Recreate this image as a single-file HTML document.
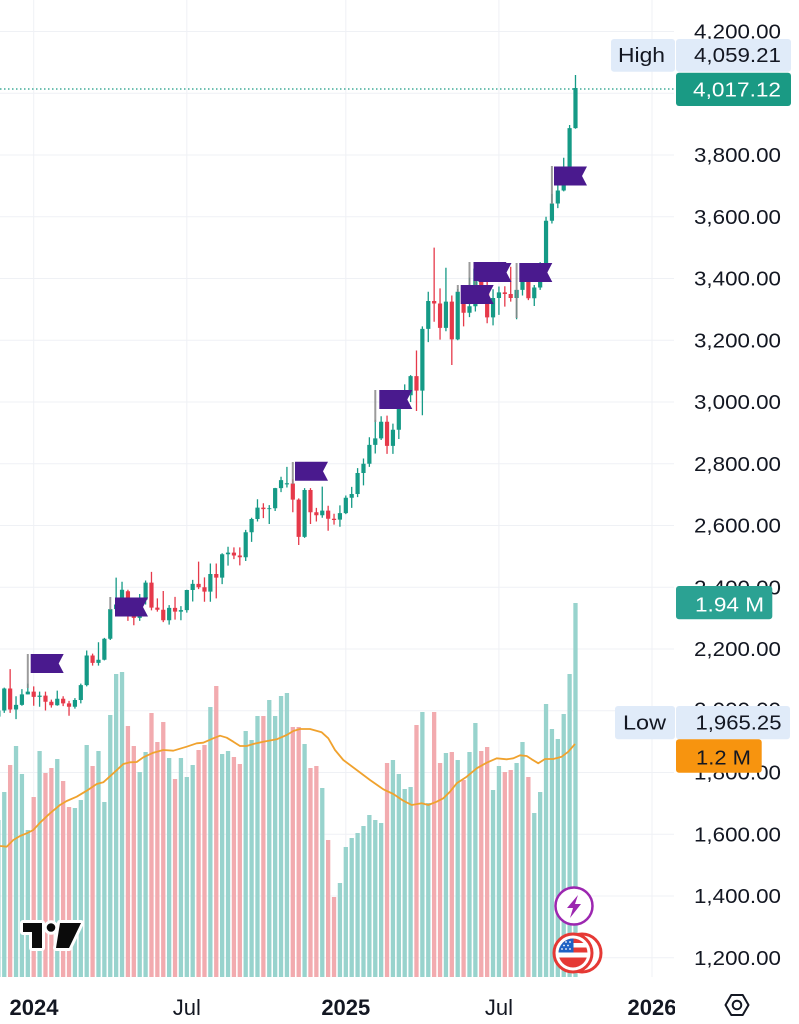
<!DOCTYPE html>
<html>
<head>
<meta charset="utf-8">
<style>
html,body{margin:0;padding:0;background:#fff;}
body{width:799px;height:1024px;overflow:hidden;}
svg{display:block;font-family:"Liberation Sans",sans-serif;}
</style>
</head>
<body>
<svg width="799" height="1024" viewBox="0 0 799 1024" xmlns="http://www.w3.org/2000/svg">
<defs>
  <clipPath id="pane"><rect x="0" y="0" width="675" height="977"/></clipPath>
  <clipPath id="taxis"><rect x="0" y="980" width="675" height="44"/></clipPath>
  <clipPath id="flagc"><circle cx="573" cy="953" r="14.5"/></clipPath>
</defs>
<rect width="799" height="1024" fill="#fff"/>

<!-- grid -->
<g stroke="#eff1f5" stroke-width="1">
  <path d="M0 31.5H674M0 93.25H674M0 155H674M0 216.75H674M0 278.5H674M0 340.25H674M0 402H674M0 463.75H674M0 525.5H674M0 587.25H674M0 649H674M0 710.75H674M0 772.5H674M0 834.25H674M0 896H674M0 957.75H674"/>
  <path d="M33.7 0V977M186.8 0V977M345.8 0V977M498.9 0V977M652 0V977"/>
</g>

<g clip-path="url(#pane)">
<!-- volume -->
<g transform="matrix(5.889 0 0 -1 33.7 977)">
<path fill="#98d3cd" d="M-6.365 0h.73v157h-.73zM-5.365 0h.73v185h-.73zM-3.365 0h.73v231h-.73zM-2.365 0h.73v203h-.73zM-1.365 0h.73v147h-.73zM.635 0h.73v226h-.73zM3.635 0h.73v218h-.73zM6.635 0h.73v169h-.73zM7.635 0h.73v177h-.73zM8.635 0h.73v232h-.73zM10.635 0h.73v226h-.73zM11.635 0h.73v175h-.73zM12.635 0h.73v262h-.73zM13.635 0h.73v303h-.73zM14.635 0h.73v305h-.73zM17.635 0h.73v205h-.73zM18.635 0h.73v225h-.73zM22.635 0h.73v219h-.73zM24.635 0h.73v219h-.73zM25.635 0h.73v200h-.73zM26.635 0h.73v212h-.73zM29.635 0h.73v270h-.73zM31.635 0h.73v223h-.73zM32.635 0h.73v226h-.73zM35.635 0h.73v246h-.73zM36.635 0h.73v237h-.73zM37.635 0h.73v261h-.73zM39.635 0h.73v277h-.73zM40.635 0h.73v261h-.73zM41.635 0h.73v281h-.73zM42.635 0h.73v284h-.73zM45.635 0h.73v233h-.73zM48.635 0h.73v189h-.73zM51.635 0h.73v94h-.73zM52.635 0h.73v130h-.73zM53.635 0h.73v139h-.73zM54.635 0h.73v144h-.73zM55.635 0h.73v151h-.73zM56.635 0h.73v162h-.73zM57.635 0h.73v157h-.73zM58.635 0h.73v154h-.73zM60.635 0h.73v217h-.73zM61.635 0h.73v203h-.73zM62.635 0h.73v188h-.73zM63.635 0h.73v190h-.73zM65.635 0h.73v265h-.73zM66.635 0h.73v174h-.73zM69.635 0h.73v224h-.73zM71.635 0h.73v217h-.73zM73.635 0h.73v225h-.73zM74.635 0h.73v254h-.73zM77.635 0h.73v187h-.73zM78.635 0h.73v211h-.73zM81.635 0h.73v214h-.73zM82.635 0h.73v235h-.73zM84.635 0h.73v164h-.73zM85.635 0h.73v185h-.73zM86.635 0h.73v273h-.73zM87.635 0h.73v248h-.73zM88.635 0h.73v238h-.73zM89.635 0h.73v263h-.73zM90.635 0h.73v303h-.73zM91.635 0h.73v374h-.73z"/>
<path fill="#f2abaf" d="M-4.365 0h.73v212h-.73zM-.365 0h.73v180h-.73zM1.635 0h.73v204h-.73zM2.635 0h.73v209h-.73zM4.635 0h.73v196h-.73zM5.635 0h.73v170h-.73zM9.635 0h.73v211h-.73zM15.635 0h.73v251h-.73zM16.635 0h.73v231h-.73zM19.635 0h.73v264h-.73zM20.635 0h.73v235h-.73zM21.635 0h.73v255h-.73zM23.635 0h.73v198h-.73zM27.635 0h.73v227h-.73zM28.635 0h.73v232h-.73zM30.635 0h.73v291h-.73zM33.635 0h.73v220h-.73zM34.635 0h.73v213h-.73zM38.635 0h.73v261h-.73zM43.635 0h.73v250h-.73zM44.635 0h.73v250h-.73zM46.635 0h.73v209h-.73zM47.635 0h.73v211h-.73zM49.635 0h.73v137h-.73zM50.635 0h.73v80h-.73zM59.635 0h.73v214h-.73zM64.635 0h.73v252h-.73zM67.635 0h.73v265h-.73zM68.635 0h.73v214h-.73zM70.635 0h.73v225h-.73zM72.635 0h.73v197h-.73zM75.635 0h.73v226h-.73zM76.635 0h.73v230h-.73zM79.635 0h.73v205h-.73zM80.635 0h.73v207h-.73zM83.635 0h.73v200h-.73z"/>
</g>

<!-- volume MA -->
<polyline fill="none" stroke="#f0a22e" stroke-width="1.8" stroke-linejoin="round" points="0,846 6.7,846.7 13.3,840 20,836 26.7,833.3 33.3,830 40,822.7 50,813.3 60,805 66.7,801 76.7,796.7 86.7,790.7 96.7,784 103.3,782.3 113.3,773.3 123.3,764 130,762.3 136.7,762 143.3,757.3 153.3,752.7 163.3,750 173.3,750.7 186.7,746.7 196.7,743.3 203.3,742.7 213.3,738.3 220,735.7 226.7,737.7 233.3,741.7 240,746 246.7,746 253.3,744 263.3,741.7 276.7,739.3 286.7,735 293.3,731 300,729 310,729 321.7,732.3 328.3,738.3 335,750 343.3,760 356.7,770 370,780 383.3,789.3 393.3,794 403.3,800.7 411.7,805 421.7,803.3 428.3,805 436.7,801.7 443.3,798.3 450,791.7 456.7,783.3 466.7,776.7 476.7,768.3 486.7,762.7 496.7,758.3 506.7,759.3 513.3,758.3 520,755.3 526.7,756 531.7,759.3 538.3,763.3 545,759 553.3,759 561.7,756.7 568.3,751.7 575,744"/>

<!-- candles -->
<g transform="matrix(5.889 0 0 -0.30875 33.7 1328.25)" fill="none">
<path stroke="#159a86" stroke-width="1.3" vector-effect="non-scaling-stroke" d="M-6 1980V2007M-5 1993V2075M-3 1973V2047M-2 2016V2070M-1 2053V2088M1 2013V2062M4 2016V2065M7 2007V2041M8 2024V2088M9 2079V2195M11 2146V2222M12 2163V2236M13 2229V2330M14 2319V2431M15 2331V2418M18 2291V2378M19 2344V2422M23 2279V2342M25 2293V2339M26 2318V2392M27 2354V2424M30 2353V2477M32 2410V2510M33 2470V2531M36 2485V2586M37 2547V2625M38 2613V2685M40 2605V2666M41 2647V2722M42 2708V2758M43 2723V2790M46 2560V2721M49 2625V2726M52 2596V2665M53 2637V2697M54 2657V2725M55 2692V2786M56 2730V2817M57 2790V2886M58 2833V2942M59 2877V2954M61 2832V2930M62 2880V3004M63 2982V3057M64 3000V3087M66 2957V3245M67 3194V3357M70 3229V3435M72 3200V3366M74 3275V3403M75 3293V3446M78 3248V3365M79 3282V3374M82 3268V3363M83 3345V3409M85 3311V3379M86 3363V3453M87 3436V3600M88 3578V3674M89 3628V3707M90 3682V3791M91 3760V3897M92 3885V4059"/>
<path stroke="#159a86" stroke-width="4.2" vector-effect="non-scaling-stroke" d="M-6 1981V2001M-5 2001V2072M-3 2004V2019M-2 2019V2053M-1 2053V2062M1 2045V2049M4 2018V2039M7 2013V2035M8 2035V2083M9 2083V2179M11 2155V2165M12 2165V2233M13 2233V2329M14 2329V2344M15 2344V2392M18 2301V2360M19 2360V2415M23 2293V2333M25 2321V2326M26 2326V2391M27 2391V2411M30 2386V2443M32 2431V2507M33 2507V2512M36 2497V2578M37 2578V2621M38 2621V2658M40 2653V2656M41 2656V2721M42 2721V2747M43 2733V2737M46 2563V2715M49 2633V2648M52 2619V2640M53 2640V2690M54 2690V2702M55 2702V2770M56 2770V2800M57 2800V2861M58 2861V2882M59 2882V2936M61 2858V2910M62 2910V2984M63 2984V3022M64 3022V3084M66 3037V3237M67 3237V3327M70 3240V3325M72 3203V3357M74 3289V3310M75 3310V3432M78 3274V3337M79 3337V3355M82 3337V3363M83 3363V3398M85 3336V3371M86 3371V3448M87 3448V3587M88 3587V3643M89 3643V3685M90 3685V3760M91 3760V3887M92 3887V4017"/>
<path stroke="#e6394a" stroke-width="1.3" vector-effect="non-scaling-stroke" d="M-4 1993V2135M0 2016V2079M2 2001V2062M3 2010V2036M5 2015V2047M6 1984V2032M10 2146V2185M16 2291V2392M17 2277V2350M20 2325V2450M21 2321V2364M22 2287V2388M24 2295V2369M28 2394V2483M29 2353V2432M31 2364V2477M34 2491V2529M35 2471V2529M39 2624V2672M44 2643V2750M45 2537V2688M47 2605V2721M48 2613V2657M50 2583V2664M51 2603V2638M60 2832V2956M65 2971V3167M68 3260V3500M69 3202V3368M71 3120V3345M73 3245V3365M76 3340V3452M77 3255V3398M80 3309V3375M81 3325V3438M84 3330V3400"/>
<path stroke="#e6394a" stroke-width="4.2" vector-effect="non-scaling-stroke" d="M-4 2004V2072M0 2045V2062M2 2029V2049M3 2018V2029M5 2024V2039M6 2013V2024M10 2155V2179M16 2337V2387M17 2301V2337M20 2334V2415M21 2327V2334M22 2293V2327M24 2321V2333M28 2400V2411M29 2386V2400M31 2431V2443M34 2503V2512M35 2497V2503M39 2653V2658M44 2684V2736M45 2563V2684M47 2643V2715M48 2633V2643M50 2622V2648M51 2618V2622M60 2858V2936M65 3037V3084M68 3319V3327M69 3240V3319M71 3203V3325M73 3289V3357M76 3368V3432M77 3274V3368M80 3350V3355M81 3337V3350M84 3336V3398"/>
</g>

<!-- last price dotted line -->
<path d="M0 89H676" stroke="#1a9a84" stroke-width="1.2" stroke-dasharray="1.5 2.5"/>

<!-- flag poles -->
<g stroke="#8a8a8a" stroke-width="2" opacity="0.85">
<path d="M27.8 654V688M110.3 597V610M292.8 462V484M375.3 390V422M457.8 285V292M469.5 262V290M475.4 262V302M516.6 263V318M551.9 166V204"/>
</g>
<!-- flags -->
<g fill="#4a1a8e">
<polygon points="30.7,654 63.7,654 58.7,663.5 63.7,673 30.7,673"/>
<polygon points="115,597.5 148,597.5 143,607 148,616.5 115,616.5"/>
<polygon points="295,461.7 328,461.7 323,471.2 328,480.7 295,480.7"/>
<polygon points="379.3,390 412.3,390 407.3,399.5 412.3,409 379.3,409"/>
<polygon points="460.7,285 493.7,285 488.7,294.5 493.7,304 460.7,304"/>
<polygon points="473.5,262 506.5,262 501.5,271.5 506.5,281 473.5,281"/>
<polygon points="478.5,263 511.5,263 506.5,272.5 511.5,282 478.5,282"/>
<polygon points="519.3,263 552.3,263 547.3,272.5 552.3,282 519.3,282"/>
<polygon points="554,166.5 587,166.5 582,176 587,185.5 554,185.5"/>
</g>
</g>

<!-- event icons -->
<circle cx="574" cy="906" r="18.5" fill="#fff" stroke="#9c27b0" stroke-width="2.5"/>
<polygon points="578,895 567,908 573,908 570,918 581,904 575,904" fill="#9c27b0"/>
<circle cx="582" cy="953" r="19" fill="#fff" stroke="#e53935" stroke-width="3"/>
<circle cx="573" cy="953" r="19" fill="#fff" stroke="#e53935" stroke-width="3"/>
<g clip-path="url(#flagc)">
  <rect x="558" y="938" width="30" height="31" fill="#fff"/>
  <rect x="558" y="938" width="30" height="5" fill="#e53935"/>
  <rect x="558" y="947.5" width="30" height="5" fill="#e53935"/>
  <rect x="558" y="957.5" width="30" height="11" fill="#e53935"/>
  <rect x="558" y="938" width="15.5" height="14.5" fill="#1f62c4"/>
  <g fill="#fff">
    <circle cx="562" cy="942" r="0.9"/><circle cx="566" cy="942" r="0.9"/><circle cx="570" cy="942" r="0.9"/>
    <circle cx="564" cy="945.5" r="0.9"/><circle cx="568" cy="945.5" r="0.9"/>
    <circle cx="562" cy="949" r="0.9"/><circle cx="566" cy="949" r="0.9"/><circle cx="570" cy="949" r="0.9"/>
  </g>
</g>

<!-- TradingView logo -->
<g stroke="#fff" stroke-width="6" stroke-linejoin="round" fill="#fff">
  <path d="M23 923H42V948H32V932H23Z"/>
  <circle cx="51" cy="927.5" r="4.3"/>
  <polygon points="60,923 81,923 69,948 56,948"/>
</g>
<g fill="#0b0b0b">
  <path d="M23 923H42V948H32V932H23Z"/>
  <circle cx="51" cy="927.5" r="4.3"/>
  <polygon points="60,923 81,923 69,948 56,948"/>
</g>

<!-- price axis labels -->
<g font-size="20" fill="#131722" text-anchor="end">
<text x="781" y="38.5" textLength="87" lengthAdjust="spacingAndGlyphs">4,200.00</text>
<text x="781" y="100.25" textLength="87" lengthAdjust="spacingAndGlyphs">4,000.00</text>
<text x="781" y="162" textLength="87" lengthAdjust="spacingAndGlyphs">3,800.00</text>
<text x="781" y="223.75" textLength="87" lengthAdjust="spacingAndGlyphs">3,600.00</text>
<text x="781" y="285.5" textLength="87" lengthAdjust="spacingAndGlyphs">3,400.00</text>
<text x="781" y="347.25" textLength="87" lengthAdjust="spacingAndGlyphs">3,200.00</text>
<text x="781" y="409" textLength="87" lengthAdjust="spacingAndGlyphs">3,000.00</text>
<text x="781" y="470.75" textLength="87" lengthAdjust="spacingAndGlyphs">2,800.00</text>
<text x="781" y="532.5" textLength="87" lengthAdjust="spacingAndGlyphs">2,600.00</text>
<text x="781" y="594.25" textLength="87" lengthAdjust="spacingAndGlyphs">2,400.00</text>
<text x="781" y="656" textLength="87" lengthAdjust="spacingAndGlyphs">2,200.00</text>
<text x="781" y="716.5" textLength="87" lengthAdjust="spacingAndGlyphs">2,000.00</text>
<text x="781" y="779.5" textLength="87" lengthAdjust="spacingAndGlyphs">1,800.00</text>
<text x="781" y="841.25" textLength="87" lengthAdjust="spacingAndGlyphs">1,600.00</text>
<text x="781" y="903" textLength="87" lengthAdjust="spacingAndGlyphs">1,400.00</text>
<text x="781" y="964.75" textLength="87" lengthAdjust="spacingAndGlyphs">1,200.00</text>
</g>

<!-- High box -->
<rect x="611" y="39" width="64" height="32.7" rx="3" fill="#e0ebf9"/>
<rect x="676" y="39" width="115" height="32.7" rx="3" fill="#e0ebf9"/>
<text x="618" y="62" font-size="20" fill="#131722" textLength="47" lengthAdjust="spacingAndGlyphs">High</text>
<text x="781" y="62" font-size="20" fill="#131722" text-anchor="end" textLength="87" lengthAdjust="spacingAndGlyphs">4,059.21</text>

<!-- last price box -->
<rect x="676" y="72.7" width="115" height="33.3" rx="3" fill="#1a9a84"/>
<text x="781" y="96.5" font-size="20" fill="#fff" text-anchor="end" textLength="88" lengthAdjust="spacingAndGlyphs">4,017.12</text>

<!-- volume last box -->
<rect x="676" y="586" width="96.3" height="33.3" rx="3" fill="#2ba293"/>
<text x="764" y="611.5" font-size="20" fill="#fff" text-anchor="end" textLength="69" lengthAdjust="spacingAndGlyphs">1.94 M</text>

<!-- Low box -->
<rect x="615" y="706" width="60" height="33.3" rx="3" fill="#e0ebf9"/>
<rect x="676" y="706" width="114" height="33.3" rx="3" fill="#e0ebf9"/>
<text x="623" y="729.5" font-size="20" fill="#131722" textLength="43" lengthAdjust="spacingAndGlyphs">Low</text>
<text x="781.5" y="729.5" font-size="20" fill="#131722" text-anchor="end" textLength="86" lengthAdjust="spacingAndGlyphs">1,965.25</text>

<!-- volume MA box -->
<rect x="676" y="739.3" width="85.7" height="33.4" rx="3" fill="#f7940f"/>
<text x="696" y="764.3" font-size="20" fill="#131722" textLength="55" lengthAdjust="spacingAndGlyphs">1.2 M</text>

<!-- time axis -->
<g clip-path="url(#taxis)" fill="#131722" font-size="22" text-anchor="middle">
<text x="34" y="1015" font-weight="bold">2024</text>
<text x="186.8" y="1015">Jul</text>
<text x="345.8" y="1015" font-weight="bold">2025</text>
<text x="498.9" y="1015">Jul</text>
<text x="652" y="1015" font-weight="bold">2026</text>
</g>

<!-- settings icon -->
<polygon points="725.5,1005 731.3,995 742.7,995 748.5,1005 742.7,1015 731.3,1015" fill="none" stroke="#131722" stroke-width="2" stroke-linejoin="round"/>
<circle cx="737" cy="1005" r="4.3" fill="none" stroke="#131722" stroke-width="2"/>
</svg>
</body>
</html>
